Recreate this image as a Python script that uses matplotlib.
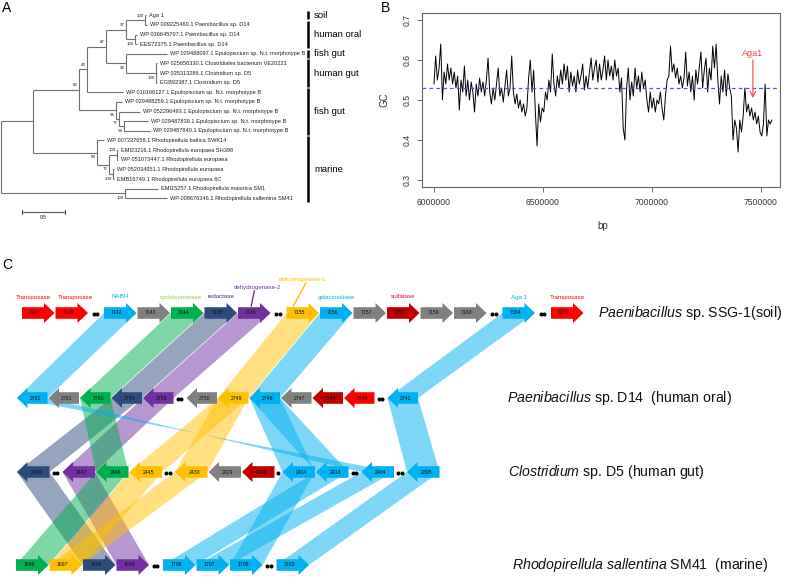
import matplotlib
matplotlib.use("Agg")
import matplotlib.pyplot as plt
import numpy as np
from matplotlib.collections import LineCollection
from matplotlib.patches import Polygon

plt.rcParams['font.family'] = ['Liberation Sans', 'DejaVu Sans']
plt.rcParams['mathtext.fontset'] = 'custom'
plt.rcParams['mathtext.it'] = 'Liberation Sans:italic'
plt.rcParams['mathtext.rm'] = 'Liberation Sans'

W, H = 787, 579


# ---------------- data: panel A (tree, branch lengths in substitutions/site) ----
def L(name, bl):
    return ("leaf", name, bl)


def N(support, bl, *kids, up=False):
    return ("node", support, bl, kids, up)


EPU = "Epulopiscium sp. N.t. morphotype B"
TREE = N(None, 0.0,
         N(None, 0.372,
           N(83, 0.535,
             N(43, 0.093,
               N(87, 0.221,
                 N(97, 0.233,
                   N(100, 0.221, L("Aga 1", 0.012),
                     L("WP 009225460.1 Paenibacillus sp. D14", 0.023), up=True),
                   N(100, 0.105, L("WP 036645707.1 Paenibacillus sp. D14", 0.023),
                     L("EES72375.1 Paenibacillus sp. D14", 0.023)),
                   up=True),
                 N(96, 0.233,
                   L("WP 029488097.1 " + EPU, 0.477),
                   N(100, 0.349, L("WP 025656330.1 Clostridiales bacterium VE20221", 0.012),
                     L("WP 035313286.1 Clostridium sp. D5", 0.012),
                     L("EGB92387.1 Clostridium sp. D5", 0.012))),
                 up=True),
               L("WP 010166127.1 " + EPU, 0.419),
               up=True),
             N(96, 0.430,
               L("WP 029488259.1 " + EPU, 0.070),
               N(77, 0.035,
                 L("WP 052296493.1 " + EPU, 0.244),
                 N(99, 0.058, L("WP 029487839.1 " + EPU, 0.279),
                   L("WP 029487840.1 " + EPU, 0.302)))),
             up=True),
           N(89, 0.744,
             L("WP 007337658.1 Rhodopirellula baltica SWK14", 0.081),
             N(72, 0.140,
               N(100, 0.093, L("EMI23216.1 Rhodopirellula europaea SH398", 0.012),
                 L("WP 051073447.1 Rhodopirellula europaea", 0.012), up=True),
               N(100, 0.047, L("WP 052034951.1 Rhodopirellula europaea", 0.012),
                 L("EMB16749.1 Rhodopirellula europaea 6C", 0.012))))),
         N(100, 1.442,
           L("EMI15257.1 Rhodopirellula maiorica SM1", 0.384),
           L("WP 008676346.1 Rhodopirellula sallentina SM41", 0.488)))

GROUP_NAMES = ["soil", "human oral", "fish gut", "human gut", "fish gut", "marine"]
GROUP_SIZES = [1, 3, 1, 3, 5, 7]

# ---------------- data: panel B (GC content in sliding windows) ----------------
BP_START = 6000000
BP_STEP = 7750
GC = [0.54, 0.61, 0.55, 0.58, 0.64, 0.50, 0.57, 0.54, 0.59, 0.55,
      0.58, 0.54, 0.57, 0.53, 0.56, 0.475, 0.55, 0.52, 0.585, 0.51,
      0.55, 0.50, 0.545, 0.52, 0.47, 0.54, 0.51, 0.555, 0.52, 0.545,
      0.51, 0.55, 0.605, 0.52, 0.49, 0.53, 0.50, 0.54, 0.58, 0.51,
      0.53, 0.495, 0.535, 0.575, 0.51, 0.53, 0.61, 0.52, 0.49, 0.515,
      0.48, 0.50, 0.47, 0.49, 0.46, 0.48, 0.555, 0.60, 0.52, 0.575,
      0.47, 0.385, 0.49, 0.445, 0.48, 0.47, 0.52, 0.50, 0.55, 0.52,
      0.615, 0.54, 0.51, 0.56, 0.53, 0.575, 0.54, 0.59, 0.55, 0.585,
      0.52, 0.57, 0.535, 0.56, 0.52, 0.575, 0.54, 0.56, 0.59, 0.525,
      0.56, 0.53, 0.57, 0.605, 0.55, 0.58, 0.60, 0.545, 0.59, 0.55,
      0.575, 0.61, 0.55, 0.60, 0.56, 0.585, 0.55, 0.60, 0.56, 0.58,
      0.52, 0.555, 0.43, 0.40, 0.53, 0.58, 0.50, 0.545, 0.51, 0.58,
      0.53, 0.56, 0.52, 0.57, 0.53, 0.55, 0.50, 0.47, 0.52, 0.48,
      0.505, 0.47, 0.50, 0.49, 0.52, 0.48, 0.45, 0.51, 0.55, 0.56,
      0.635, 0.57, 0.59, 0.555, 0.58, 0.54, 0.56, 0.53, 0.555, 0.62,
      0.535, 0.57, 0.52, 0.56, 0.50, 0.575, 0.54, 0.58, 0.62, 0.53,
      0.575, 0.605, 0.52, 0.58, 0.55, 0.635, 0.58, 0.64, 0.55, 0.49,
      0.56, 0.52, 0.575, 0.51, 0.565, 0.53, 0.51, 0.40, 0.45, 0.43,
      0.37, 0.45, 0.42, 0.46, 0.53, 0.47, 0.49, 0.46, 0.48, 0.45,
      0.47, 0.44, 0.46, 0.42, 0.41, 0.44, 0.54, 0.41, 0.45, 0.44, 0.45]
GC_MEAN = 0.53
AGA1_BP = 7463000

# ---------------- data: panel C (gene neighbourhoods) ----------------
ROW1_GENES = ["7137", "7138", "••", "7142", "7143", "7144", "7145", "7146", "••", "7155",
              "7156", "7157", "7158", "7159", "7160", "••", "7164", "••", "7209"]
ROW1_FUNCS = ["T", "T", "", "G", "H", "C", "R", "D2", "", "D1",
              "G", "H", "S", "H", "H", "", "G", "", "T"]
ROW2_GENES = ["2762", "2761", "2760", "2759", "2758", "••", "2750", "2749", "2748", "2747",
              "2746", "2745", "••", "2741"]
ROW2_FUNCS = ["G", "H", "C", "R", "D2", "", "H", "D1", "G", "H", "S", "T", "", "G"]
ROW3_GENES = ["2450", "••", "2447", "2446", "2445", "••", "2430", "2429", "2428", "•",
              "2414", "2413", "••", "2404", "••", "2395"]
ROW3_FUNCS = ["R", "", "D2", "C", "D1", "", "D1", "H", "S", "", "G", "G", "", "G", "", "G"]
ROW4_GENES = ["1696", "1697", "1698", "1699", "••", "1706", "1707", "1708", "••", "2482"]
ROW4_FUNCS = ["C", "D1", "R", "D2", "", "G", "G", "G", "", "G"]
ROW_STRAND = [1, -1, -1, 1]

SPECIES = [r"$\mathit{Paenibacillus}$ sp. SSG-1(soil)",
           r"$\mathit{Paenibacillus}$ sp. D14  (human oral)",
           r"$\mathit{Clostridium}$ sp. D5 (human gut)",
           r"$\mathit{Rhodopirellula\ sallentina}$ SM41  (marine)"]

ANNOT_GENES = ["7137", "7138", "7142", "7144", "7145", "7146", "7155", "7156", "7158", "7164", "7209"]
ANNOT_TEXT = ["Transposase", "Transposase", "NABH", "cycloisomerase", "reductase",
              "dehydrogenase-2", "dehydrogenase-1", "galactosidase", "sulfatase", "Aga 1",
              "Transposase"]

LINKS = [("7142", "2762"), ("7144", "2760"), ("7145", "2759"), ("7146", "2758"),
         ("7155", "2749"), ("7156", "2748"), ("7164", "2741"),
         ("2759", "2450"), ("2758", "2447"), ("2760", "2446"), ("2749", "2445"),
         ("2749", "2430"), ("2748", "2414"), ("2748", "2413"), ("2762", "2404"),
         ("2741", "2395"),
         ("2450", "1698"), ("2447", "1699"), ("2446", "1696"), ("2445", "1697"),
         ("2430", "1697"), ("2414", "1708"), ("2413", "1706"), ("2404", "1707"),
         ("2395", "2482")]
TWISTED = [("2762", "2404")]

# ---------------- styles ----------------
FUNC_COLOR = {"T": "#FF0000", "G": "#00B0F0", "H": "#808080", "C": "#00B050",
              "R": "#2F4B7C", "D2": "#7030A0", "D1": "#FFC000", "S": "#C00000"}
ANNOT_COLOR = {"Transposase": "#FF0000", "NABH": "#00B0F0", "cycloisomerase": "#92D050",
               "reductase": "#1F3864", "dehydrogenase-2": "#7030A0",
               "dehydrogenase-1": "#FFC000", "galactosidase": "#00B0F0",
               "sulfatase": "#E8003C", "Aga 1": "#00B0F0"}

fig = plt.figure(figsize=(W / 100, H / 100), dpi=100)

# ================= panel A =================
axA = fig.add_axes([0, 1 - 260 / H, 400 / W, 260 / H])
axA.axis('off')
X0, XS = 1.0, 86.0    # root position / px per unit
Y0, YS = 15.3, 9.63   # first leaf / px per leaf
axA.set_xlim((0 - X0) / XS, (400 - X0) / XS)
axA.set_ylim((260 - Y0) / YS, (0 - Y0) / YS)

leaves, segs, boots = [], [], []


def layout(node, x):
    if node[0] == "leaf":
        y = len(leaves)
        leaves.append((node[1], x, y))
        return y
    _, support, _, kids, up = node
    ys = []
    for k in kids:
        kx = x + k[2]
        ky = layout(k, kx)
        segs.append([(x, ky), (kx, ky)])
        ys.append(ky)
    segs.append([(x, ys[0]), (x, ys[-1])])
    y = (ys[0] + ys[-1]) / 2
    if support is not None:
        boots.append((x, y, support, up))
    return y


layout(TREE, 0.0)
axA.add_collection(LineCollection(segs, colors='#6e6e6e', linewidths=0.8))
for name, x, y in leaves:
    axA.text(x + 3 / XS, y, name, fontsize=4.1, va='center', ha='left', color='#222222')
for x, y, s, up in boots:
    axA.text(x - 1.5 / XS, y + (-4.5 if up else 4.5) / YS, str(s), fontsize=3.2,
             ha='right', va='center', color='#222222')

BAR_X = (308 - X0) / XS
start = 0
for name, n in zip(GROUP_NAMES, GROUP_SIZES):
    axA.plot([BAR_X, BAR_X], [start - 0.42, start + n - 1 + 0.42], color='black', lw=1.8,
             solid_capstyle='butt')
    axA.text(BAR_X + 6 / XS, start + (n - 1) / 2, name, fontsize=6.8, va='center')
    start += n

sb_y = (212 - Y0) / YS
sb_x = (22 - X0) / XS
axA.plot([sb_x, sb_x + 0.5], [sb_y, sb_y], color='#555555', lw=0.8)
for xx in (sb_x, sb_x + 0.5):
    axA.plot([xx, xx], [sb_y - 2 / YS, sb_y + 2 / YS], color='#555555', lw=0.8)
axA.text(sb_x + 0.25, sb_y + 6 / YS, "0.5", fontsize=3.5, ha='center', va='center')

# ================= panel B =================
axB = fig.add_axes([422 / W, 1 - 187 / H, 358 / W, 174 / H])
bp = BP_START + BP_STEP * np.arange(len(GC))
axB.plot(bp, GC, color='black', lw=0.7)
axB.axhline(GC_MEAN, color='#5050ff', lw=0.9, ls=(0, (3, 2.5)))
axB.set_xlim(5.945e6, 5.945e6 + 358 / 109 * 5e5)
axB.set_ylim(0.2825, 0.7175)
xt = [6000000, 6500000, 7000000, 7500000]
axB.set_xticks(xt)
axB.set_xticklabels([str(v) for v in xt])
yt = [0.3, 0.4, 0.5, 0.6, 0.7]
axB.set_yticks(yt)
axB.set_yticklabels([f"{v:.1f}" for v in yt], rotation=90, va='center')
for s in axB.spines.values():
    s.set_color('#666666')
    s.set_linewidth(0.8)
axB.tick_params(direction='out', length=3.6, width=0.7, color='#666666', labelsize=6.2,
                labelcolor='#333333', pad=4)
axB.annotate("", xy=(AGA1_BP, 0.505), xytext=(AGA1_BP, 0.60),
             arrowprops=dict(arrowstyle='->', color='#FF4040', lw=0.8, shrinkA=0, shrinkB=0))
axB.text(AGA1_BP, 0.6175, "Aga1", color='#FF4040', fontsize=6.5, ha='center', va='center')
fig.text(385 / W, 1 - 100 / H, "GC", rotation=90, fontsize=7, ha='center', va='center',
         color='#333333')
fig.text(603 / W, 1 - 226 / H, "bp", fontsize=7, ha='center', va='center', color='#333333')

# panel letters
fig.text(2 / W, 1 - 8 / H, "A", fontsize=10, va='center')
fig.text(381 / W, 1 - 8 / H, "B", fontsize=10, va='center')
fig.text(2 / W, 1 - 265 / H, "C", fontsize=10, va='center')

# ================= panel C =================
axC = fig.add_axes([0, 0, 1, 1])
axC.set_xlim(0, W)
axC.set_ylim(H, 0)
axC.axis('off')

ROW_Y = [313, 398, 472, 565]
ROW_X0 = [22, 17, 17, 16]
ROW_PITCH = [33.5, 31.5, 33.5, 33.5]
ROW_DOTS = [15.0, 12.0, 12.0, 13.0]
HEAD_L, BODY_H, HEAD_H = 10.5, 5.8, 10.0

rows = [(ROW1_GENES, ROW1_FUNCS), (ROW2_GENES, ROW2_FUNCS),
        (ROW3_GENES, ROW3_FUNCS), (ROW4_GENES, ROW4_FUNCS)]
spans, gene_func = {}, {}
for r, (genes, funcs) in enumerate(rows):
    x = ROW_X0[r]
    y = ROW_Y[r]
    d = ROW_STRAND[r]
    length = ROW_PITCH[r] - 1.0
    for g, f in zip(genes, funcs):
        if g in ("••", "•"):
            gap = ROW_DOTS[r] if g == "••" else 7.0
            c = x - 1 + gap / 2
            dx = [-1.8, 1.8] if g == "••" else [0.0]
            axC.plot([c + v for v in dx], [y + 1] * len(dx), 'o', color='black', ms=1.9,
                     zorder=4)
            x += gap
            continue
        spans[g] = (x, x + length, r)
        gene_func[g] = f
        if d > 0:
            pts = [(x, y - BODY_H), (x + length - HEAD_L, y - BODY_H),
                   (x + length - HEAD_L, y - HEAD_H), (x + length, y),
                   (x + length - HEAD_L, y + HEAD_H), (x + length - HEAD_L, y + BODY_H),
                   (x, y + BODY_H)]
            tx = x + (length - HEAD_L) / 2 + 2
        else:
            pts = [(x + length, y - BODY_H), (x + HEAD_L, y - BODY_H), (x + HEAD_L, y - HEAD_H),
                   (x, y), (x + HEAD_L, y + HEAD_H), (x + HEAD_L, y + BODY_H),
                   (x + length, y + BODY_H)]
            tx = x + HEAD_L + (length - HEAD_L) / 2 - 2
        axC.add_patch(Polygon(pts, closed=True, facecolor=FUNC_COLOR[f], edgecolor='none',
                              zorder=3))
        axC.text(tx, y, g, fontsize=3.7, ha='center', va='center', color='#111111', zorder=4)
        x += ROW_PITCH[r]

for ga, gb in LINKS:
    a0, a1, ra = spans[ga]
    b0, b1, rb = spans[gb]
    ya, yb = ROW_Y[ra], ROW_Y[rb]
    if (ga, gb) in TWISTED:
        pts = [(a0, ya), (a1, ya), (b0, yb), (b1, yb)]
    else:
        pts = [(a0, ya), (a1, ya), (b1, yb), (b0, yb)]
    axC.add_patch(Polygon(pts, closed=True, facecolor=FUNC_COLOR[gene_func[ga]], alpha=0.5,
                          edgecolor='none', zorder=1))

LEVEL_DY = {"dehydrogenase-2": 26, "dehydrogenase-1": 34}
LABEL_SHIFT = {"7137": -5, "7138": 4, "7144": -6, "7146": 3}
for g, t in zip(ANNOT_GENES, ANNOT_TEXT):
    x0, x1, r = spans[g]
    cx = (x0 + x1) / 2
    y = ROW_Y[r]
    dy = LEVEL_DY.get(t, 16)
    axC.text(cx + LABEL_SHIFT.get(g, 0), y - dy, t, fontsize=4.4, ha='center', va='center',
             color=ANNOT_COLOR[t])
    if dy > 16:
        axC.plot([cx + (dy - 26) * 0.4, cx - 3 - (dy - 26) * 0.8], [y - dy + 4, y - 7],
                 color=ANNOT_COLOR[t], lw=1.0)

SPECIES_X = [598, 507, 508, 512]
for r, s in enumerate(SPECIES):
    axC.text(SPECIES_X[r], ROW_Y[r], s, fontsize=10.2, ha='left', va='center', color='#111111')

fig.savefig("out.png", dpi=100)
